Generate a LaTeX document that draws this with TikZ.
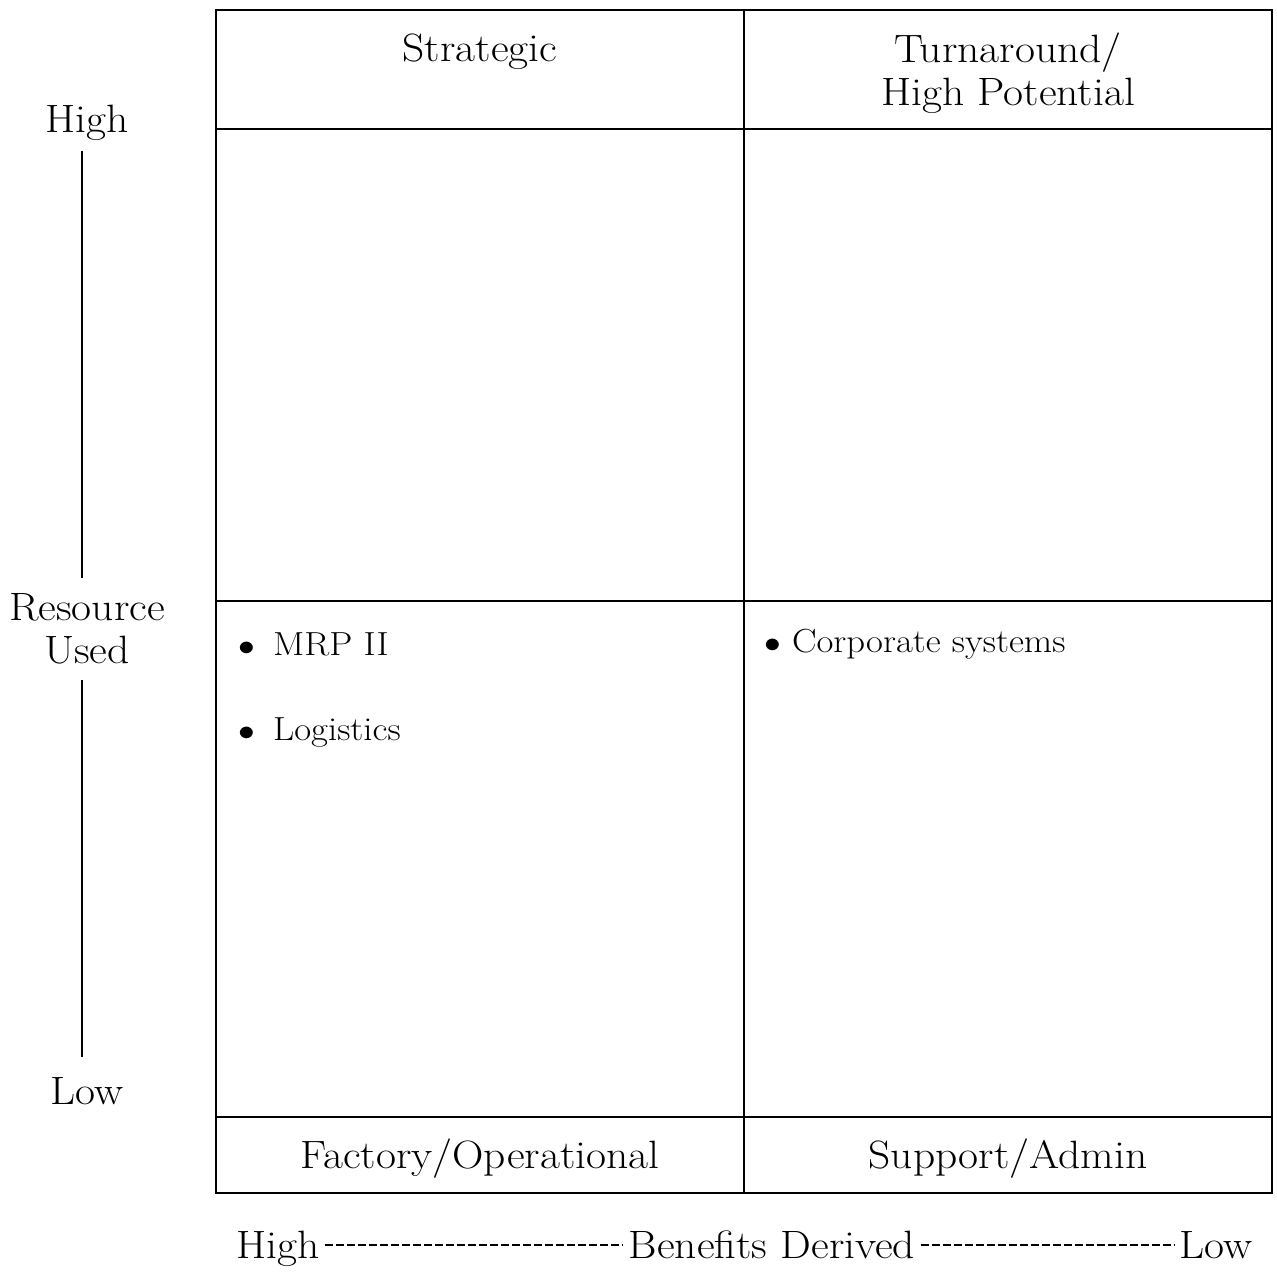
\documentclass[tikz,border=0pt]{standalone}
\usetikzlibrary{positioning}

\tikzset{
  grid line/.style = {line width = 0.04cm},
  axis line/.style = {line width = 0.03cm},
  head/.style = {font = \fontsize{22.5}{24.5}\selectfont, align = center,
    inner sep = 0pt, xscale = 1.1, transform shape},
  item/.style = {font = \fontsize{19}{22}\selectfont, anchor = west,
    inner sep = 0pt, xscale = 1.1, transform shape},
  benefit/.style = {line width = 0.028cm, dash pattern = on 0.16cm off 0.06cm}
}

\begin{document}
\begin{tikzpicture}[x = 0.02cm, y = -0.02cm]
  \pgfmathsetmacro{\xL}{216}
  \pgfmathsetmacro{\xM}{744}
  \pgfmathsetmacro{\xR}{1272}

  \useasboundingbox (0, 0) rectangle (1277, 1271);

  % matrix frame
  \draw[grid line] (\xL, 10) rectangle (\xR, 1193);
  \draw[grid line] (\xM, 10) -- (\xM, 1193);
  \foreach \y in {129, 601, 1117}{
    \draw[grid line] (\xL, \y) -- (\xR, \y);
  }

  % quadrant names
  \node[head] (strat) at (480, 52) {Strategic};
  \node[head] (turn) at (1008, 73) {Turnaround/\\High Potential};
  \node[head] (fact) at (480, 1159) {Factory/Operational};
  \node[head] (supp) at (1008, 1159) {Support/Admin};

  % entries
  \node[item] (mrp) at (238, 644) {$\bullet$\hspace{0.33cm}MRP II};
  \node[item] (logi) at (238, 732) {$\bullet$\hspace{0.33cm}Logistics};
  \node[item] (corp) at (764, 644) {$\bullet$\hspace{0.2cm}Corporate systems};

  % resource axis
  \node[head] (rhigh) at (87, 123) {High};
  \node[head] (rused) at (87, 629) {Resource\\Used};
  \node[head] (rlow) at (87, 1091) {Low};
  \draw[axis line] ([yshift = -0.2cm] rhigh.south -| 82, 0) -- ([yshift = 0.3cm] rused.north -| 82, 0);
  \draw[axis line] ([yshift = -0.3cm] rused.south -| 82, 0) -- ([yshift = 0.4cm] rlow.north -| 82, 0);

  % benefits axis
  \node[head, anchor = base] (bhigh) at (278, 1258) {High};
  \node[head, anchor = base] (bder) at (772, 1258) {Benefits Derived};
  \node[head, anchor = base] (blow) at (1216, 1258) {Low};
  \draw[benefit] ([shift = {(0.1cm, 0.26cm)}] bhigh.base east) -- ([shift = {(-0.1cm, 0.26cm)}] bder.base west);
  \draw[benefit] ([shift = {(0.1cm, 0.26cm)}] bder.base east) -- ([shift = {(-0.1cm, 0.26cm)}] blow.base west);
\end{tikzpicture}
\end{document}
